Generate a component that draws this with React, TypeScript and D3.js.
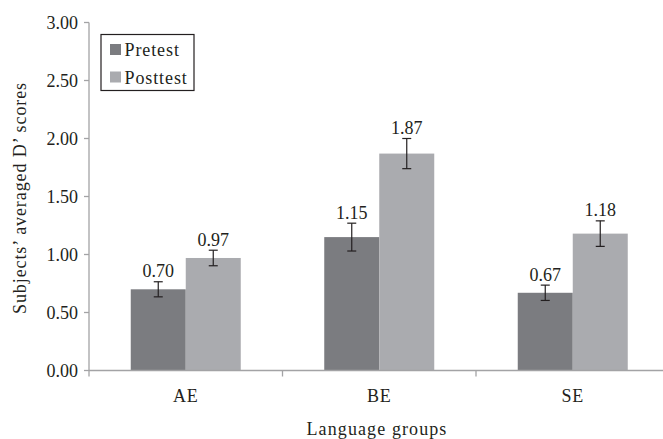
import React from "react";
import * as d3 from "d3";

const categories = ["AE", "BE", "SE"];
const seriesNames = ["Pretest", "Posttest"];
const pretest = [0.7, 1.15, 0.67];
const posttest = [0.97, 1.87, 1.18];
const pretestErr = [0.065, 0.12, 0.066];
const posttestErr = [0.067, 0.13, 0.11];
const yTicks = [0, 0.5, 1, 1.5, 2, 2.5, 3];
const colors = ["#7b7c80", "#aaabaf"];

const W = 663;
const H = 439;
const FONT = "Liberation Serif";
const TEXT = "#231f20";
const AXIS = "#a3a3a5";
const FS = 18;

const txt = (extra: React.CSSProperties = {}): React.CSSProperties => ({
  fontFamily: FONT,
  fontSize: FS,
  fill: TEXT,
  ...extra,
});

export default function App() {
  const left = 89;
  const right = 669.5;
  const top = 22.5;
  const bottom = 370.5;

  const x = d3.scaleBand<string>().domain(categories).range([left, right]).paddingInner(0).paddingOuter(0);
  const x1 = d3.scaleBand<string>().domain(seriesNames).range([0, 110]).padding(0);
  const y = d3.scaleLinear().domain([0, 3]).range([bottom, top]);
  const series = [pretest, posttest];
  const errs = [pretestErr, posttestErr];
  const groupOffset = (x.bandwidth() - 110) / 2;

  return (
    <svg width={W} height={H} style={{ position: "absolute", left: 0, top: 0, background: "#fff" }}>
      {categories.map((c, i) =>
        seriesNames.map((s, j) => {
          const v = series[j][i];
          const bx = (x(c) as number) + groupOffset + (x1(s) as number);
          const bw = x1.bandwidth();
          const cx = bx + bw / 2;
          const e = errs[j][i];
          return (
            <g key={c + s}>
              <rect x={bx} y={y(v)} width={bw} height={bottom - y(v)} fill={colors[j]} />
              <line x1={cx} x2={cx} y1={y(v + e)} y2={y(v - e)} stroke={TEXT} strokeWidth={1.2} />
              <line x1={cx - 4.5} x2={cx + 4.5} y1={y(v + e)} y2={y(v + e)} stroke={TEXT} strokeWidth={1.2} />
              <line x1={cx - 4.5} x2={cx + 4.5} y1={y(v - e)} y2={y(v - e)} stroke={TEXT} strokeWidth={1.2} />
              <text x={cx} y={y(v + e) - 4.5} textAnchor="middle" style={txt()}>
                {v.toFixed(2)}
              </text>
            </g>
          );
        })
      )}
      <line x1={left} x2={left} y1={top} y2={bottom + 6} stroke={AXIS} strokeWidth={1.3} />
      {yTicks.map((t) => (
        <g key={t}>
          <line x1={left - 5} x2={left} y1={y(t)} y2={y(t)} stroke={AXIS} strokeWidth={1.3} />
          <text x={left - 11} y={y(t) + 6} textAnchor="end" style={txt()}>
            {t.toFixed(2)}
          </text>
        </g>
      ))}
      <line x1={left} x2={W} y1={bottom} y2={bottom} stroke={AXIS} strokeWidth={1.3} />
      {categories.map((c, i) => (
        <g key={c}>
          {i > 0 && (
            <line x1={x(c) as number} x2={x(c) as number} y1={bottom} y2={bottom + 6} stroke={AXIS} strokeWidth={1.3} />
          )}
          <text x={(x(c) as number) + x.bandwidth() / 2} y={401.5} textAnchor="middle" style={txt({ letterSpacing: 0.8 })}>
            {c}
          </text>
        </g>
      ))}
      <text x={377} y={435} textAnchor="middle" style={txt({ letterSpacing: 1.1 })}>
        Language groups
      </text>
      <text transform={`translate(26, 198) rotate(-90)`} textAnchor="middle" style={txt({ letterSpacing: 0.9 })}>
        Subjects’ averaged D’ scores
      </text>
      <rect x={101} y={34.5} width={93} height={56} fill="#fff" stroke={TEXT} strokeWidth={1.2} />
      {seriesNames.map((s, j) => (
        <g key={s}>
          <rect x={110} y={44 + j * 27.5} width={11} height={11} fill={colors[j]} />
          <text x={124.5} y={56 + j * 27.5} style={txt({ letterSpacing: 0.9 })}>
            {s}
          </text>
        </g>
      ))}
    </svg>
  );
}
